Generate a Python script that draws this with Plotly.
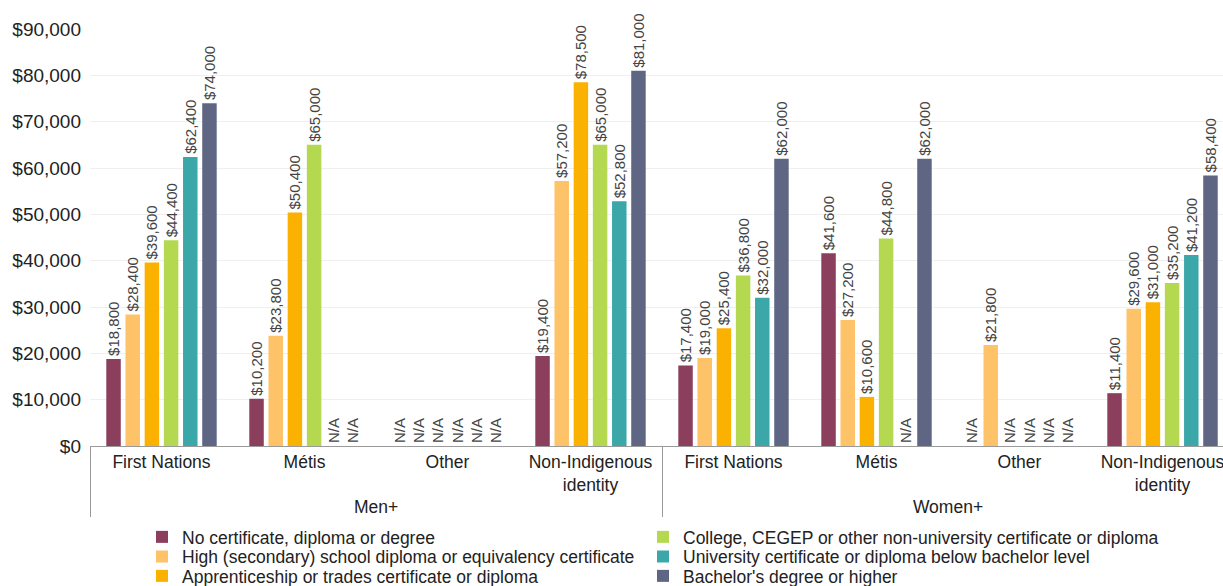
import plotly.graph_objects as go

# Categories: gender group (outer level) and identity group (inner level)
genders = ["Men+"] * 4 + ["Women+"] * 4
identities = ["First Nations", "Métis", "Other", "Non-Indigenous<br>identity"] * 2

# Median income by highest level of education (None = not available)
no_certificate = [18800, 10200, None, 19400, 17400, 41600, None, 11400]
high_school = [28400, 23800, None, 57200, 19000, 27200, 21800, 29600]
apprenticeship = [39600, 50400, None, 78500, 25400, 10600, None, 31000]
college = [44400, 65000, None, 65000, 36800, 44800, None, 35200]
university_below = [62400, None, None, 52800, 32000, None, None, 41200]
bachelor = [74000, None, None, 81000, 62000, 62000, None, 58400]

# (label, values, colour, legend id)
series = [
    ("No certificate, diploma or degree", no_certificate, "#8c3f5d", "legend"),
    ("High (secondary) school diploma or equivalency certificate", high_school, "#fec369", "legend2"),
    ("Apprenticeship or trades certificate or diploma", apprenticeship, "#fbb100", "legend3"),
    ("College, CEGEP or other non-university certificate or diploma", college, "#b4d84f", "legend4"),
    ("University certificate or diploma below bachelor level", university_below, "#3ca7a9", "legend5"),
    ("Bachelor's degree or higher", bachelor, "#5f6683", "legend6"),
]

FONT = "Liberation Sans, Arial, sans-serif"

fig = go.Figure()
for name, values, color, legend_id in series:
    fig.add_trace(go.Bar(
        name=name,
        x=[genders, identities],
        y=[v if v is not None else 0 for v in values],
        text=[f"${v:,.0f}" if v is not None else "N/A" for v in values],
        textposition="outside",
        textangle=-90,
        constraintext="none",
        cliponaxis=False,
        textfont=dict(family=FONT, size=15, color="#444444"),
        marker=dict(color=color, line=dict(width=0)),
        legend=legend_id,
    ))

# Legend laid out as two columns of three tightly spaced rows
def legend_entry(left_x, center_y):
    return dict(
        orientation="h",
        xref="container",
        yref="container",
        x=left_x / 1223,
        y=1 - center_y / 586,
        xanchor="left",
        yanchor="middle",
        font=dict(family=FONT, size=17.5, color="#222222"),
        bgcolor="rgba(0,0,0,0)",
        borderwidth=0,
    )

row_y = [537, 556.5, 576]
col_x = [142, 643]

fig.update_layout(
    width=1223,
    height=586,
    margin=dict(l=90, r=0, t=29, b=140),
    paper_bgcolor="white",
    plot_bgcolor="white",
    font=dict(family=FONT, color="#222222"),
    barmode="group",
    bargap=0.195,
    bargroupgap=0.245,
    showlegend=True,
    legend=legend_entry(col_x[0], row_y[0]),
    legend2=legend_entry(col_x[0], row_y[1]),
    legend3=legend_entry(col_x[0], row_y[2]),
    legend4=legend_entry(col_x[1], row_y[0]),
    legend5=legend_entry(col_x[1], row_y[1]),
    legend6=legend_entry(col_x[1], row_y[2]),
)

fig.update_xaxes(
    type="multicategory",
    range=[-0.5, 7.423],
    showline=True,
    linecolor="#9a9a9a",
    linewidth=1,
    showgrid=False,
    ticks="",
    tickfont=dict(size=17.5, color="#222222"),
    showdividers=True,
    dividercolor="#9a9a9a",
    dividerwidth=1,
)

fig.update_yaxes(
    range=[0, 90000],
    dtick=10000,
    tickprefix="$",
    tickformat=",d",
    showgrid=True,
    gridcolor="#efefef",
    gridwidth=1,
    zeroline=False,
    showline=False,
    ticks="",
    ticklabelstandoff=8,
    tickfont=dict(size=19, color="#222222"),
)

fig.write_html("out.html")
